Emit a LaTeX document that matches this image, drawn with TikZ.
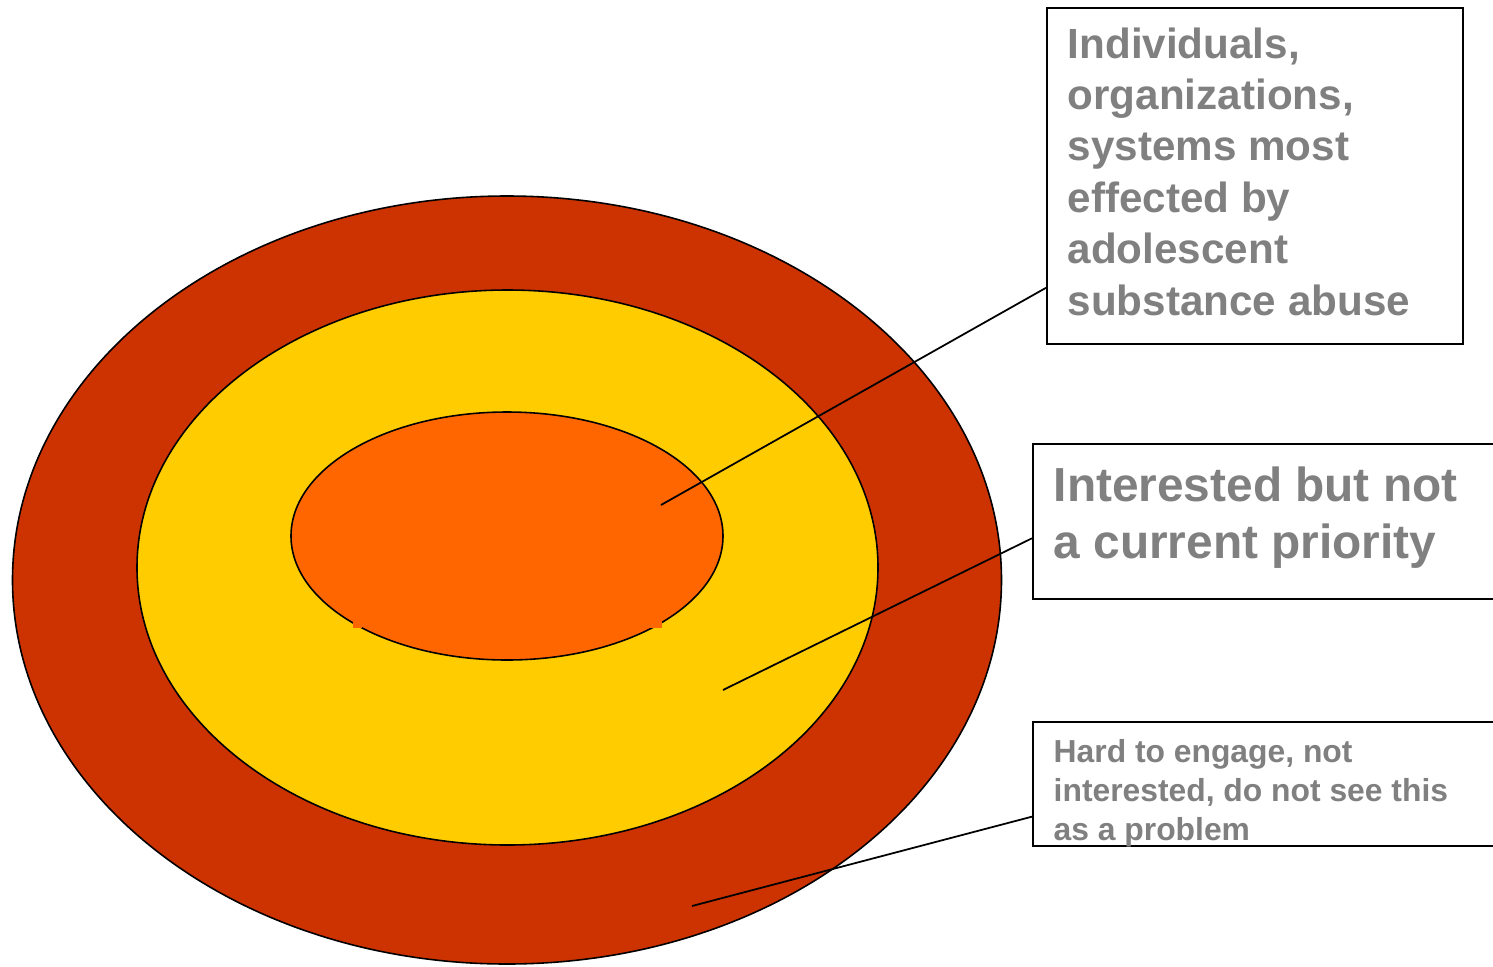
\documentclass[tikz,border=0pt]{standalone}
\usepackage{fontspec}
\setmainfont{Liberation Sans}
\usetikzlibrary{calc}
\definecolor{ringred}{HTML}{CC3300}
\definecolor{ringyellow}{HTML}{FFCC00}
\definecolor{ringorange}{HTML}{FF6600}
\definecolor{labelgray}{HTML}{808080}
\begin{document}
\begin{tikzpicture}[x=0.01cm, y=-0.01cm,
ring/.style = {draw=black, line width=0.45pt},
callout/.style = {shape=rectangle, draw=black, line width=0.6pt, inner sep=0pt, anchor=north west},
labeltext/.style = {anchor=base west, align=left, inner sep=0pt, text=labelgray},
leader/.style = {draw=black, line width=0.5pt}]
\useasboundingbox (0,0) rectangle (1493,966);
% rings
\path[ring, fill=ringred] (507,580) ellipse [x radius=494.5, y radius=384];
\path[ring, fill=ringyellow] (507.5,567.5) ellipse [x radius=370.5, y radius=277.5];
\path[ring, fill=ringorange] (507,536) ellipse [x radius=216, y radius=124];
\fill[ringorange] (353,620) rectangle (362,628);
\fill[ringorange] (650,620) rectangle (662,628);
% boxes
\node[callout, minimum width=4.16cm, minimum height=3.36cm] (box1) at (1046,7) {};
\node[callout, minimum width=4.8cm, minimum height=1.55cm] (box2) at (1032,443) {};
\node[callout, minimum width=4.8cm, minimum height=1.24cm] (box3) at (1032,721) {};
% texts (placed by the baseline of their last line)
\node[labeltext, font=\fontsize{12}{14.6}\selectfont\bfseries] (txt1) at (1067,315)
{Individuals,\\ organizations,\\ systems most\\ effected by\\ adolescent\\ substance abuse};
\node[labeltext, font=\fontsize{13.6}{16.1}\selectfont\bfseries] (txt2) at (1053,558)
{Interested but not\\ a current priority};
\node[labeltext, font=\fontsize{9.05}{10.95}\selectfont\bfseries] (txt3) at (1053,840)
{Hard to engage, not\\ interested, do not see this\\ as a problem};
% leaders
\coordinate (end1) at (661,505);
\coordinate (end2) at (723,690);
\coordinate (end3) at (692,906);
\draw[leader] ($(box1.south west)!0.17!(box1.north west)$) -- (end1);
\draw[leader] ($(box2.south west)!0.394!(box2.north west)$) -- (end2);
\draw[leader] ($(box3.south west)!0.242!(box3.north west)$) -- (end3);
\end{tikzpicture}
\end{document}
